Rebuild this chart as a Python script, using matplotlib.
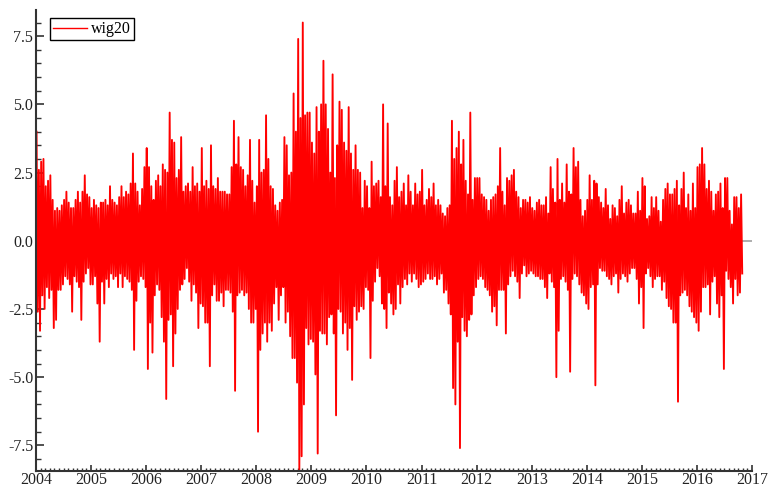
import numpy as np
import matplotlib.pyplot as plt
from matplotlib.ticker import MultipleLocator

# daily returns of wig20 (high, low)
years = [2004, 2005, 2006, 2007, 2008, 2009, 2010, 2011, 2012, 2013, 2014, 2015, 2016]

hi_2004 = [4.0, 2.6, 2.9, 3.0, 2.0, 2.2, 2.4, 1.5, 1.1, 1.2, 1.1, 1.3, 1.5, 1.8, 1.4, 1.2, 1.2, 1.5, 1.8, 1.4, 1.8, 2.4, 1.7, 1.6]
lo_2004 = [-2.6, -3.3, -2.0, -2.5, -1.7, -2.1, -1.8, -3.2, -2.9, -1.8, -1.8, -1.6, -1.3, -1.4, -1.6, -2.6, -1.3, -1.5, -1.7, -2.9, -1.5, -1.2, -1.0, -1.6]
hi_2005 = [1.2, 1.5, 1.3, 1.2, 1.4, 1.4, 1.5, 1.3, 2.0, 1.5, 1.4, 1.3, 1.6, 2.0, 1.6, 1.8, 1.7, 2.1, 3.2, 2.1, 1.8, 1.3, 1.9, 2.7]
lo_2005 = [-1.6, -1.3, -2.3, -3.7, -1.5, -2.3, -1.4, -1.7, -1.2, -1.4, -1.3, -1.7, -1.2, -1.7, -1.3, -1.4, -1.5, -1.8, -4.0, -2.2, -1.5, -1.3, -1.4, -1.7]
hi_2006 = [3.4, 2.7, 2.0, 1.5, 2.2, 2.4, 2.0, 2.8, 2.6, 2.5, 4.7, 3.7, 3.6, 2.3, 2.6, 3.8, 1.8, 2.0, 2.1, 1.8, 2.7, 2.0, 2.1, 1.8]
lo_2006 = [-4.7, -3.0, -4.1, -2.0, -1.6, -1.8, -2.8, -3.7, -5.8, -2.9, -2.7, -4.6, -3.4, -2.5, -1.8, -1.6, -1.4, -1.0, -1.5, -2.2, -1.6, -1.9, -3.2, -2.3]
hi_2007 = [3.4, 2.0, 2.2, 1.9, 3.5, 2.0, 1.9, 2.3, 1.8, 1.8, 1.8, 1.7, 1.7, 2.7, 4.4, 2.8, 3.8, 2.7, 2.6, 2.0, 2.4, 3.7, 2.2, 1.4]
lo_2007 = [-2.4, -3.0, -3.0, -4.6, -2.0, -1.6, -2.2, -2.2, -1.9, -2.4, -1.8, -1.8, -1.9, -2.6, -5.5, -2.0, -1.9, -1.8, -2.0, -1.9, -2.5, -3.0, -3.0, -2.5]
hi_2008 = [2.0, 3.7, 2.5, 2.6, 4.6, 3.0, 2.0, 1.9, 1.3, 1.1, 1.4, 1.5, 3.8, 3.5, 2.4, 2.5, 5.4, 4.0, 7.4, 4.5, 8.0, 4.6, 4.7, 4.7]
lo_2008 = [-7.0, -4.0, -3.4, -3.0, -3.7, -3.0, -3.3, -2.3, -1.7, -2.9, -2.0, -1.7, -3.0, -2.6, -3.5, -4.3, -4.3, -5.2, -8.4, -7.9, -6.0, -3.2, -3.8, -3.6]
hi_2009 = [3.6, 3.2, 4.9, 4.0, 5.0, 6.6, 5.0, 4.1, 2.5, 6.1, 2.3, 3.5, 5.1, 4.8, 3.6, 3.3, 4.9, 3.2, 2.6, 3.5, 2.6, 2.5, 1.2, 2.2]
lo_2009 = [-3.7, -4.9, -7.8, -3.3, -3.4, -3.4, -3.8, -2.8, -2.7, -3.4, -6.4, -2.5, -2.6, -3.4, -3.0, -4.0, -3.2, -5.1, -2.4, -2.9, -2.6, -2.4, -2.5, -1.7]
hi_2010 = [2.0, 1.2, 2.9, 2.0, 2.1, 2.2, 1.6, 5.0, 2.0, 4.3, 1.6, 1.3, 2.2, 2.7, 1.6, 1.8, 2.1, 1.3, 2.4, 1.8, 1.3, 2.1, 1.7, 1.8]
lo_2010 = [-1.8, -4.3, -2.2, -1.5, -1.0, -1.3, -2.3, -2.5, -3.2, -1.9, -2.3, -2.7, -2.5, -1.6, -2.3, -1.7, -1.4, -1.6, -1.2, -1.5, -1.2, -1.4, -1.7, -1.6]
hi_2011 = [2.6, 1.3, 1.5, 1.9, 1.6, 2.1, 1.3, 1.5, 1.3, 1.0, 0.9, 1.2, 1.3, 4.4, 3.0, 3.4, 4.0, 2.8, 3.7, 2.2, 1.7, 4.7, 1.5, 2.3]
lo_2011 = [-1.5, -1.4, -1.2, -1.4, -1.4, -1.3, -1.6, -1.4, -1.2, -1.9, -1.8, -2.3, -2.7, -5.4, -6.0, -3.7, -7.6, -2.8, -3.3, -3.5, -2.9, -2.7, -2.0, -1.7]
hi_2012 = [2.3, 2.3, 1.7, 1.6, 1.5, 1.1, 1.5, 1.6, 1.7, 2.0, 3.4, 1.8, 1.3, 2.3, 2.2, 2.4, 2.6, 1.8, 1.6, 1.2, 1.5, 1.5, 1.4, 1.6]
lo_2012 = [-1.4, -1.3, -1.4, -1.7, -1.8, -2.0, -2.6, -2.4, -3.1, -1.8, -1.8, -1.8, -3.4, -1.6, -1.3, -1.1, -1.3, -1.5, -2.1, -1.2, -0.9, -1.3, -1.2, -1.1]
hi_2013 = [1.2, 1.1, 1.4, 1.5, 1.3, 1.3, 1.6, 1.0, 2.7, 1.9, 1.4, 3.0, 1.5, 2.1, 1.4, 2.8, 1.8, 1.7, 3.4, 2.7, 2.9, 1.5, 0.9, 1.1]
lo_2013 = [-1.2, -1.3, -1.3, -1.4, -1.4, -1.7, -2.1, -1.2, -1.5, -1.7, -5.0, -3.3, -1.4, -1.3, -1.5, -1.8, -4.8, -1.4, -1.2, -1.3, -1.6, -1.9, -2.0, -2.3]
hi_2014 = [1.5, 2.4, 1.5, 2.2, 2.1, 1.6, 1.4, 1.2, 1.9, 1.3, 0.8, 1.3, 1.2, 0.9, 1.5, 2.0, 1.0, 1.4, 1.5, 1.3, 1.0, 1.0, 1.8, 1.1]
lo_2014 = [-2.5, -1.7, -1.6, -5.3, -1.6, -1.0, -1.1, -1.1, -1.3, -1.4, -1.6, -1.3, -1.2, -1.9, -1.4, -1.2, -1.3, -1.5, -1.2, -1.0, -1.0, -1.4, -2.3, -1.7]
hi_2015 = [2.3, 2.0, 0.8, 0.9, 1.6, 1.2, 1.6, 1.1, 0.7, 1.5, 1.9, 2.1, 1.7, 1.7, 1.9, 2.2, 1.3, 1.9, 2.5, 1.2, 1.7, 1.1, 2.1, 1.2]
lo_2015 = [-3.2, -1.2, -1.0, -1.3, -1.7, -1.4, -1.3, -1.3, -1.8, -1.5, -2.1, -2.4, -2.5, -3.0, -3.0, -5.9, -2.0, -1.9, -1.8, -2.0, -2.4, -2.6, -2.8, -3.0]
hi_2016 = [2.7, 2.8, 3.4, 2.8, 1.9, 2.2, 1.8, 1.1, 1.7, 1.8, 2.1, 1.2, 2.3, 2.3, 1.1, 0.6, 1.6, 1.6, 1.2, 1.7]
lo_2016 = [-3.3, -2.6, -1.7, -1.7, -1.6, -2.7, -1.5, -1.3, -2.3, -2.8, -2.0, -4.7, -1.1, -1.4, -1.7, -2.3, -1.4, -2.0, -1.9, -1.2]

highs = [hi_2004, hi_2005, hi_2006, hi_2007, hi_2008, hi_2009, hi_2010,
         hi_2011, hi_2012, hi_2013, hi_2014, hi_2015, hi_2016]
lows = [lo_2004, lo_2005, lo_2006, lo_2007, lo_2008, lo_2009, lo_2010,
        lo_2011, lo_2012, lo_2013, lo_2014, lo_2015, lo_2016]

t = []
v = []
for yr, h, l in zip(years, highs, lows):
    for k in range(len(h)):
        t += [yr + (k + 0.25) / 24, yr + (k + 0.75) / 24]
        v += [h[k], l[k]]

plt.rcParams['font.family'] = 'Liberation Serif'

fig = plt.figure(figsize=(7.71, 4.88), dpi=100)
ax = fig.add_axes([36 / 771, 1 - 471 / 488, 716 / 771, 461 / 488])

ax.axhline(0, color='#a0a0a0', lw=1.2, zorder=1)
ax.plot(t, v, color='red', lw=1.35, label='wig20', zorder=2)

ax.set_xlim(2004, 2017)
ax.set_ylim(-8.44, 8.46)

ax.xaxis.set_major_locator(MultipleLocator(1))
ax.xaxis.set_minor_locator(MultipleLocator(1 / 12))
ax.yaxis.set_major_locator(MultipleLocator(2.5))
ax.yaxis.set_minor_locator(MultipleLocator(0.5))
ax.xaxis.set_major_formatter(plt.FuncFormatter(lambda x, p: '%d' % round(x)))
ax.yaxis.set_major_formatter(plt.FuncFormatter(lambda y, p: '%.1f' % y))

for s in ['top', 'right']:
    ax.spines[s].set_visible(False)
for s in ['left', 'bottom']:
    ax.spines[s].set_color('#333333')
    ax.spines[s].set_linewidth(1.5)

ax.tick_params(axis='y', which='major', direction='in', length=6, width=1.2,
               color='#333333', labelsize=11.5, labelcolor='#222222', pad=2)
ax.tick_params(axis='y', which='minor', direction='in', length=3.5, width=1.0, color='#333333')
ax.tick_params(axis='x', which='major', direction='in', length=4.5, width=1.2,
               color='#333333', labelsize=11.5, labelcolor='#222222', pad=0.5)
ax.tick_params(axis='x', which='minor', direction='in', length=2.5, width=1.0, color='#333333')

leg = ax.legend(loc='upper left', bbox_to_anchor=(14 / 716, 1 - 8 / 461), borderaxespad=0,
                fontsize=11.5, handlelength=2.1, handletextpad=0.25, borderpad=0.2,
                fancybox=False, framealpha=1, edgecolor='black')
leg.get_frame().set_linewidth(1.0)
leg.get_lines()[0].set_linewidth(1.0)

fig.savefig('out.png', dpi=100)
